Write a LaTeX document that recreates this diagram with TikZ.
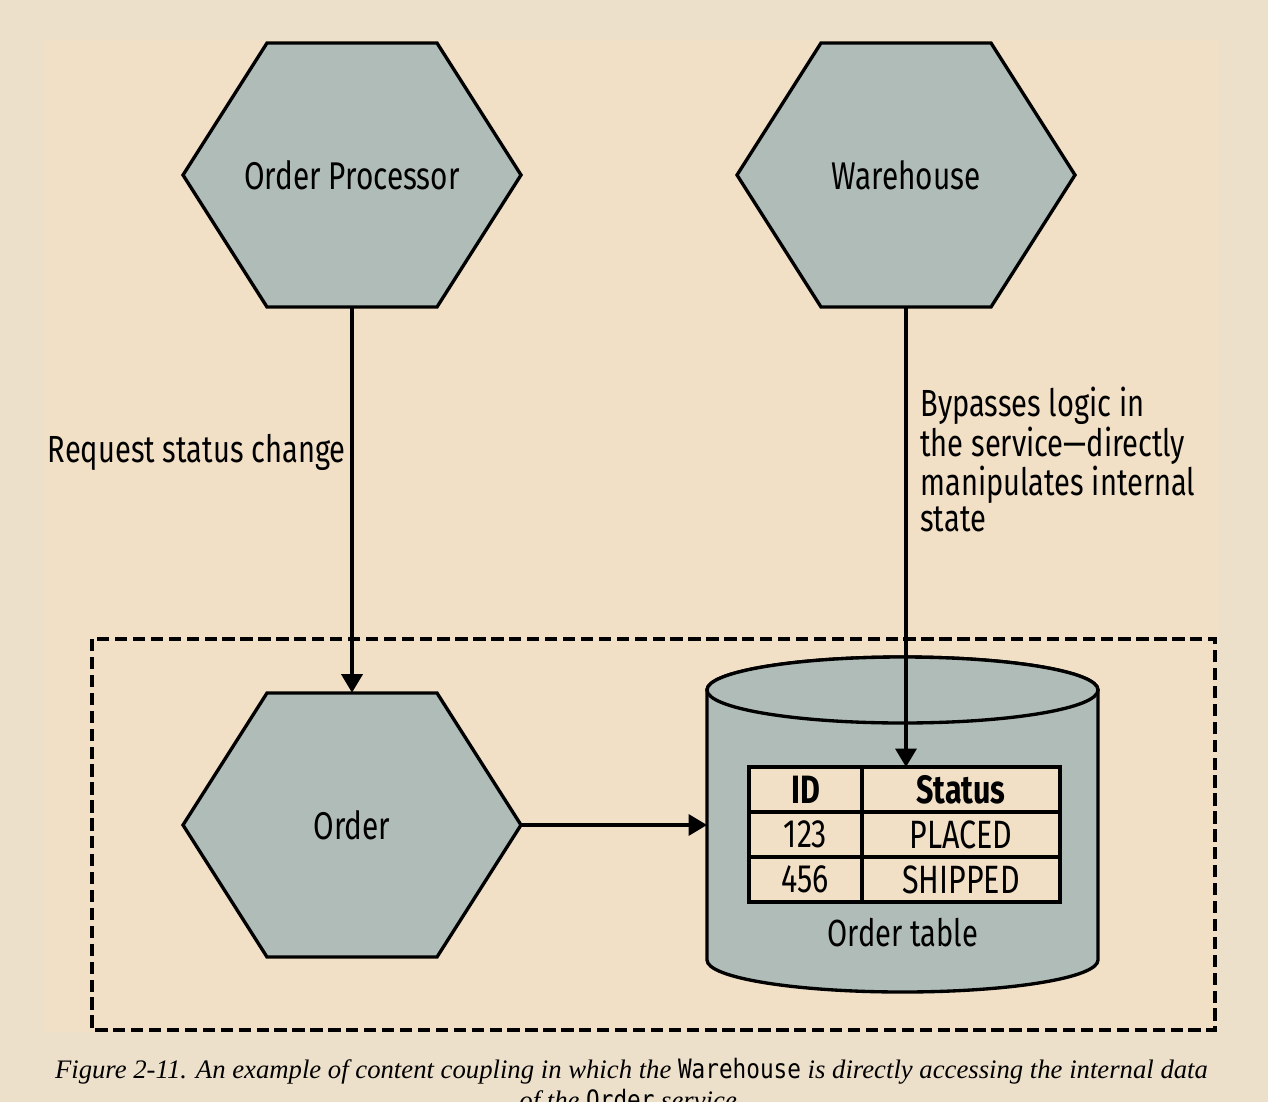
\documentclass[tikz,border=0pt]{standalone}
\usepackage{fontspec}
\setmainfont{Fira Sans}[FakeStretch=0.77]
\newfontfamily\capfont{Liberation Serif}
\newfontfamily\capmono{DejaVu Sans Mono}[FakeStretch=0.85]
\usetikzlibrary{arrows.meta,calc}
\definecolor{pagebg}{RGB}{237,224,203}
\definecolor{panelbg}{RGB}{242,224,198}
\definecolor{hexgrey}{RGB}{176,188,184}
\tikzset{
	hexshape/.style={draw=black, fill=hexgrey, line width=1.9pt, line join=miter},
	hexlabel/.style={minimum width=338*0.02cm, minimum height=264*0.02cm, inner sep=0pt, font=\fontsize{22}{25}\selectfont},
	dbshape/.style={draw=black, fill=hexgrey, line width=1.9pt},
	cell/.style={draw=black, fill=panelbg, line width=1.9pt, minimum height=45*0.02cm, inner sep=0pt, outer sep=0pt, font=\fontsize{22.5}{24}\selectfont},
	note/.style={inner sep=0pt, font=\fontsize{21.5}{20.5}\selectfont},
	flow/.style={line width=1.8pt, -{Triangle[width=12pt,length=10.5pt]}},
	boundary/.style={draw=black, line width=2pt, dash pattern=on 7pt off 3.2pt},
	captext/.style={inner sep=0pt, font=\capfont\itshape\fontsize{15.2}{17}\selectfont}
}
\begin{document}
\begin{tikzpicture}[x=0.02cm,y=-0.02cm]
				%%%%% START %%%%%
				\def\hw{169}
				\def\tw{85}
				\def\hh{132}
				\def\dbl{707}
				\def\dbr{1098}
				\def\dbc{902.5}
				\def\dbtop{690}
				\def\dbbot{960}
				\def\dbrx{195.5*0.02cm}
				\def\idx{805.5}
				\def\stx{961}
				
				\useasboundingbox (0,0) rectangle (1268,1102);
				\fill[pagebg] (0,0) rectangle (1268,1102);
				\fill[panelbg] (45,40) rectangle (1218,1032);
				
				\draw[boundary] (92,639) rectangle (1215,1030);
				
				\foreach \name/\x/\y/\txt in {proc/352/175/Order Processor, wh/906/175/Warehouse, ord/352/825/Order}{
					\draw[hexshape] (\x-\hw,\y) -- (\x-\tw,\y-\hh) -- (\x+\tw,\y-\hh) -- (\x+\hw,\y) -- (\x+\tw,\y+\hh) -- (\x-\tw,\y+\hh) -- cycle;
					\node[hexlabel] (\name) at (\x,\y) {\txt};
				}
				
				\draw[dbshape] (\dbl,\dbtop) -- (\dbl,\dbbot) arc[start angle=180, end angle=360, x radius=\dbrx, y radius=32*0.02cm] -- (\dbr,\dbtop) arc[start angle=0, end angle=180, x radius=\dbrx, y radius=33*0.02cm] -- cycle;
				\draw[dbshape] (\dbc,\dbtop) ellipse[x radius=\dbrx, y radius=33*0.02cm];
				\coordinate (dbw) at (\dbl,825);
				
				\node[cell, minimum width=113*0.02cm, font=\fontsize{22.5}{24}\selectfont\bfseries] (idh) at (\idx,789.5) {ID};
				\node[cell, minimum width=198*0.02cm, font=\fontsize{22.5}{24}\selectfont\bfseries] (sth) at (\stx,789.5) {Status};
				\node[cell, minimum width=113*0.02cm] (id1) at (\idx,834.5) {123};
				\node[cell, minimum width=198*0.02cm] (st1) at (\stx,834.5) {PLACED};
				\node[cell, minimum width=113*0.02cm] (id2) at (\idx,879.5) {456};
				\node[cell, minimum width=198*0.02cm] (st2) at (\stx,879.5) {SHIPPED};
				\node[note] (dbname) at (903,933) {Order table};
				
				\draw[flow] (proc.south) -- (ord.north);
				\draw[flow] (wh.south) -- (wh.south |- sth.north);
				\draw[flow] (ord.east) -- (dbw);
				
				\node[note, anchor=east] (req) at (346,452) {Request status change};
				\node[note, anchor=north west, align=left] (bypass) at (920,387) {Bypasses logic in\\the service—directly\\manipulates internal\\state};
				
				\node[captext, anchor=base] (cap1) at (631.5,1078) {Figure 2-11. An example of content coupling in which the {\capmono\upshape Warehouse} is directly accessing the internal data};
				\node[captext, anchor=base] (cap2) at (631.5,1109) {of the {\capmono\upshape Order} service.};
				%%%%% END %%%%%
\end{tikzpicture}
\end{document}
